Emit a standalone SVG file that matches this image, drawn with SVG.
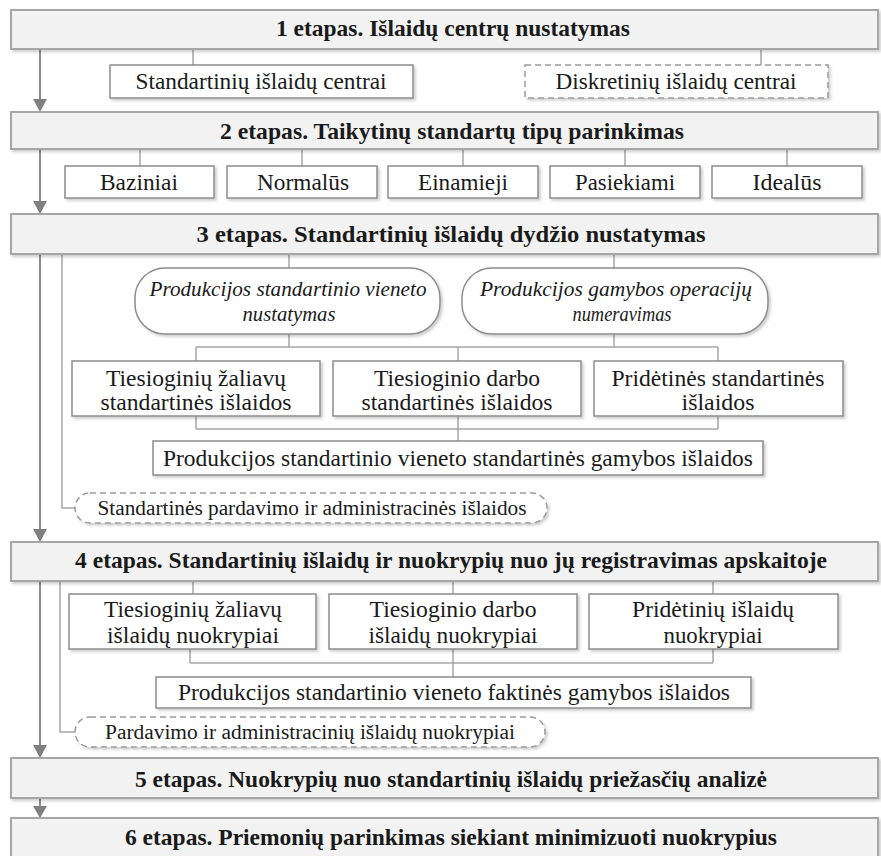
<svg xmlns="http://www.w3.org/2000/svg" width="881" height="856" viewBox="0 0 881 856">
<style>
.bar{fill:#f2f2f2;stroke:#a6a6a6;stroke-width:2}
.box{fill:#fff;stroke:#8c8c8c;stroke-width:1.5}
.dash{fill:#fff;stroke:#9a9a9a;stroke-width:1.5;stroke-dasharray:6 4}
text{font-family:"Liberation Serif","Times New Roman",serif;fill:#1a1a1a;text-anchor:middle}
.bt{font-weight:bold;font-size:22.5px}
.t{font-size:23px}
.ts{font-size:20px}
.ti{font-style:italic;font-size:20.5px}
.c{fill:none;stroke:#a6a6a6;stroke-width:1.5}
.a{fill:none;stroke:#8c8c8c;stroke-width:2}
.ah{fill:#808080}
</style>
<defs>
<filter id="sh" x="-5%" y="-20%" width="110%" height="150%">
<feDropShadow dx="2" dy="2" stdDeviation="1.5" flood-color="#000" flood-opacity="0.2"/>
</filter>
</defs>

<g id="connectors">
<path class="c" d="M193,49 V65 M761,49 V65"/>
<path class="c" d="M140,149 V166 M302,149 V166 M463,149 V166 M625,149 V166 M787,149 V166"/>
<path class="c" d="M289,254 V268 M614,254 V268"/>
<path class="c" d="M289,334 V347 M614,334 V347 M196,347 H718 M196,347 V361 M458,347 V361 M718,347 V361"/>
<path class="c" d="M196,416 V429 M718,416 V429 M196,429 H718 M458,416 V441"/>
<path class="c" d="M62,254 V508 H75"/>
<path class="c" d="M193,581 V594 M453,581 V594 M713,581 V594"/>
<path class="c" d="M190,649 V663 M713,649 V663 M190,663 H713 M453,649 V677"/>
<path class="c" d="M60,581 V732 H75"/>
<path class="a" d="M40,49 V100 M40,149 V202 M40,254 V530 M40,581 V746 M40,798 V808"/>
<path class="ah" d="M33,99 H47 L40,112 Z M33,201 H47 L40,214 Z M33,529 H47 L40,542 Z M33,745 H47 L40,758 Z M33,806 H47 L40,818 Z"/>
</g>

<g id="stage1"><rect class="bar" x="11" y="10" width="867" height="39" filter="url(#sh)"/><text class="bt" x="453" y="36" textLength="354" lengthAdjust="spacingAndGlyphs">1 etapas. Išlaidų centrų nustatymas</text></g>
<g id="n-std-centrai"><rect class="box" x="110" y="65" width="303" height="33" filter="url(#sh)"/><text class="t" x="261" y="89" textLength="251" lengthAdjust="spacingAndGlyphs">Standartinių išlaidų centrai</text></g>
<g id="n-disk-centrai"><rect class="dash" x="525" y="65" width="303" height="33" filter="url(#sh)"/><text class="t" x="676" y="89" textLength="241" lengthAdjust="spacingAndGlyphs">Diskretinių išlaidų centrai</text></g>

<g id="stage2"><rect class="bar" x="11" y="112" width="867" height="37" filter="url(#sh)"/><text class="bt" x="452" y="139" textLength="464" lengthAdjust="spacingAndGlyphs">2 etapas. Taikytinų standartų tipų parinkimas</text></g>
<g id="n-baziniai"><rect class="box" x="65" y="166" width="149" height="32" filter="url(#sh)"/><text class="t" x="139" y="190" textLength="78" lengthAdjust="spacingAndGlyphs">Baziniai</text></g>
<g id="n-normalus"><rect class="box" x="227" y="166" width="150" height="32" filter="url(#sh)"/><text class="t" x="303" y="190" textLength="92" lengthAdjust="spacingAndGlyphs">Normalūs</text></g>
<g id="n-einamieji"><rect class="box" x="388" y="166" width="150" height="32" filter="url(#sh)"/><text class="t" x="463" y="190" textLength="90" lengthAdjust="spacingAndGlyphs">Einamieji</text></g>
<g id="n-pasiekiami"><rect class="box" x="550" y="166" width="150" height="32" filter="url(#sh)"/><text class="t" x="625" y="190" textLength="100" lengthAdjust="spacingAndGlyphs">Pasiekiami</text></g>
<g id="n-idealus"><rect class="box" x="712" y="166" width="150" height="32" filter="url(#sh)"/><text class="t" x="787" y="190" textLength="69" lengthAdjust="spacingAndGlyphs">Idealūs</text></g>

<g id="stage3"><rect class="bar" x="11" y="214" width="867" height="40" filter="url(#sh)"/><text class="bt" x="451" y="242" textLength="509" lengthAdjust="spacingAndGlyphs">3 etapas. Standartinių išlaidų dydžio nustatymas</text></g>
<g id="n-vienetas"><rect class="box" x="135" y="268" width="305" height="66" rx="30" filter="url(#sh)"/><text class="ti" x="288" y="296" textLength="277" lengthAdjust="spacingAndGlyphs">Produkcijos standartinio vieneto</text><text class="ti" x="289" y="321" textLength="93" lengthAdjust="spacingAndGlyphs">nustatymas</text></g>
<g id="n-operacijos"><rect class="box" x="462" y="268" width="306" height="66" rx="30" filter="url(#sh)"/><text class="ti" x="616" y="296" textLength="272" lengthAdjust="spacingAndGlyphs">Produkcijos gamybos operacijų</text><text class="ti" x="622" y="321" textLength="99" lengthAdjust="spacingAndGlyphs">numeravimas</text></g>
<g id="n-zaliavos"><rect class="box" x="72" y="361" width="248" height="55" filter="url(#sh)"/><text class="t" x="196" y="386" textLength="180" lengthAdjust="spacingAndGlyphs">Tiesioginių žaliavų</text><text class="t" x="196" y="410" textLength="191" lengthAdjust="spacingAndGlyphs">standartinės išlaidos</text></g>
<g id="n-darbas"><rect class="box" x="333" y="361" width="248" height="55" filter="url(#sh)"/><text class="t" x="457" y="386" textLength="166" lengthAdjust="spacingAndGlyphs">Tiesioginio darbo</text><text class="t" x="457" y="410" textLength="191" lengthAdjust="spacingAndGlyphs">standartinės išlaidos</text></g>
<g id="n-pridetines"><rect class="box" x="594" y="361" width="249" height="55" filter="url(#sh)"/><text class="t" x="718" y="386" textLength="213" lengthAdjust="spacingAndGlyphs">Pridėtinės standartinės</text><text class="t" x="718" y="410" textLength="73" lengthAdjust="spacingAndGlyphs">išlaidos</text></g>
<g id="n-std-gamybos"><rect class="box" x="153" y="441" width="610" height="34" filter="url(#sh)"/><text class="t" x="458" y="466" textLength="590" lengthAdjust="spacingAndGlyphs">Produkcijos standartinio vieneto standartinės gamybos išlaidos</text></g>
<g id="n-std-pardavimo"><rect class="dash" x="75" y="493" width="472" height="30" rx="15" filter="url(#sh)"/><text class="ts" x="312" y="515" textLength="429" lengthAdjust="spacingAndGlyphs">Standartinės pardavimo ir administracinės išlaidos</text></g>

<g id="stage4"><rect class="bar" x="11" y="542" width="867" height="39" filter="url(#sh)"/><text class="bt" x="451" y="568" textLength="752" lengthAdjust="spacingAndGlyphs">4 etapas. Standartinių išlaidų ir nuokrypių nuo jų registravimas apskaitoje</text></g>
<g id="n-zal-nuokr"><rect class="box" x="69" y="594" width="247" height="55" filter="url(#sh)"/><text class="t" x="193" y="617" textLength="178" lengthAdjust="spacingAndGlyphs">Tiesioginių žaliavų</text><text class="t" x="193" y="643" textLength="172" lengthAdjust="spacingAndGlyphs">išlaidų nuokrypiai</text></g>
<g id="n-darbo-nuokr"><rect class="box" x="329" y="594" width="248" height="55" filter="url(#sh)"/><text class="t" x="453" y="617" textLength="167" lengthAdjust="spacingAndGlyphs">Tiesioginio darbo</text><text class="t" x="453" y="643" textLength="169" lengthAdjust="spacingAndGlyphs">išlaidų nuokrypiai</text></g>
<g id="n-prid-nuokr"><rect class="box" x="589" y="594" width="249" height="55" filter="url(#sh)"/><text class="t" x="713" y="617" textLength="162" lengthAdjust="spacingAndGlyphs">Pridėtinių išlaidų</text><text class="t" x="713" y="643" textLength="99" lengthAdjust="spacingAndGlyphs">nuokrypiai</text></g>
<g id="n-fakt-gamybos"><rect class="box" x="156" y="677" width="595" height="31" filter="url(#sh)"/><text class="t" x="454" y="700" textLength="552" lengthAdjust="spacingAndGlyphs">Produkcijos standartinio vieneto faktinės gamybos išlaidos</text></g>
<g id="n-pard-nuokr"><rect class="dash" x="75" y="717" width="470" height="30" rx="15" filter="url(#sh)"/><text class="ts" x="310" y="739" textLength="410" lengthAdjust="spacingAndGlyphs">Pardavimo ir administracinių išlaidų nuokrypiai</text></g>

<g id="stage5"><rect class="bar" x="11" y="758" width="867" height="40" filter="url(#sh)"/><text class="bt" x="451" y="787" textLength="632" lengthAdjust="spacingAndGlyphs">5 etapas. Nuokrypių nuo standartinių išlaidų priežasčių analizė</text></g>
<g id="stage6"><rect class="bar" x="11" y="818" width="867" height="42" filter="url(#sh)"/><text class="bt" x="451" y="845" textLength="652" lengthAdjust="spacingAndGlyphs">6 etapas. Priemonių parinkimas siekiant minimizuoti nuokrypius</text></g>
</svg>
